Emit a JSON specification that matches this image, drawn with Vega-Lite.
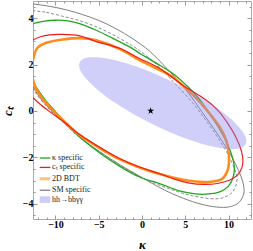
{
"$schema":"https://vega.github.io/schema/vega-lite/v6.json",
"width":218,"height":218,
"autosize":{"type":"none"},
"padding":{"left":33,"top":1,"right":2,"bottom":32},
"config":{"view":{"stroke":"#aaaaaa","strokeWidth":1},"font":"Liberation Serif",
 "axis":{"grid":false,"domain":false,"tickColor":"#999999","labelFont":"Liberation Serif","labelFontWeight":"bold","labelFontSize":10,"labelColor":"#000000","titleFont":"Liberation Serif","titleFontStyle":"italic","titleFontWeight":"bold","titleFontSize":13,"titleColor":"#000000"}},
"datasets":{
"sm":[{"i":1,"k":-12.68,"c":4.62},{"i":2,"k":-10.68,"c":4.51},{"i":3,"k":-8.75,"c":4.36},{"i":4,"k":-6.84,"c":4.15},{"i":5,"k":-4.91,"c":3.89},{"i":6,"k":-2.98,"c":3.54},{"i":7,"k":-1.06,"c":3.11},{"i":8,"k":0.87,"c":2.58},{"i":9,"k":2.79,"c":1.86},{"i":10,"k":5.10,"c":0.90},{"i":11,"k":7.02,"c":-0.09},{"i":12,"k":8.57,"c":-0.91},{"i":13,"k":9.64,"c":-1.52},{"i":14,"k":10.45,"c":-2.03},{"i":15,"k":11.14,"c":-2.55},{"i":16,"k":11.66,"c":-3.07},{"i":17,"k":11.78,"c":-3.54},{"i":18,"k":11.26,"c":-3.93},{"i":19,"k":10.45,"c":-4.10},{"i":20,"k":9.41,"c":-4.16},{"i":21,"k":7.79,"c":-4.10},{"i":22,"k":5.83,"c":-3.91},{"i":23,"k":3.56,"c":-3.58},{"i":24,"k":1.64,"c":-3.22},{"i":25,"k":-0.29,"c":-2.81},{"i":26,"k":-2.60,"c":-2.31},{"i":27,"k":-4.91,"c":-1.75},{"i":28,"k":-7.22,"c":-1.13},{"i":29,"k":-9.15,"c":-0.46},{"i":30,"k":-10.68,"c":0.10},{"i":31,"k":-11.84,"c":0.59},{"i":32,"k":-12.68,"c":1.07},{"i":33,"k":-13.68,"c":1.37},{"i":34,"k":-14.49,"c":1.84},{"i":35,"k":-15.01,"c":2.40},{"i":36,"k":-15.24,"c":3.14},{"i":37,"k":-15.18,"c":3.82},{"i":38,"k":-14.78,"c":4.34},{"i":39,"k":-14.15,"c":4.60},{"i":40,"k":-13.45,"c":4.66}],
"smd":[{"i":1,"k":-12.68,"c":4.32},{"i":2,"k":-11.06,"c":4.25},{"i":3,"k":-9.15,"c":4.08},{"i":4,"k":-7.22,"c":3.89},{"i":5,"k":-5.29,"c":3.63},{"i":6,"k":-3.37,"c":3.29},{"i":7,"k":-1.44,"c":2.88},{"i":8,"k":-0.29,"c":2.60},{"i":9,"k":1.64,"c":2.02},{"i":10,"k":3.56,"c":1.28},{"i":11,"k":5.48,"c":0.51},{"i":12,"k":7.02,"c":-0.22},{"i":13,"k":8.57,"c":-1.04},{"i":14,"k":9.72,"c":-1.73},{"i":15,"k":10.51,"c":-2.33},{"i":16,"k":10.97,"c":-2.85},{"i":17,"k":10.80,"c":-3.28},{"i":18,"k":10.22,"c":-3.58},{"i":19,"k":9.18,"c":-3.76},{"i":20,"k":7.79,"c":-3.78},{"i":21,"k":5.48,"c":-3.63},{"i":22,"k":3.56,"c":-3.41},{"i":23,"k":1.64,"c":-3.15},{"i":24,"k":-0.29,"c":-2.83},{"i":25,"k":-2.60,"c":-2.33},{"i":26,"k":-4.91,"c":-1.77},{"i":27,"k":-7.22,"c":-1.15},{"i":28,"k":-9.15,"c":-0.48},{"i":29,"k":-10.68,"c":0.06},{"i":30,"k":-11.84,"c":0.55},{"i":31,"k":-12.68,"c":0.98},{"i":32,"k":-13.45,"c":1.37},{"i":33,"k":-14.15,"c":1.89},{"i":34,"k":-14.49,"c":2.53},{"i":35,"k":-14.43,"c":3.18},{"i":36,"k":-14.03,"c":3.74},{"i":37,"k":-13.45,"c":4.13},{"i":38,"k":-12.99,"c":4.28}],
"kap":[{"i":1,"k":-12.68,"c":3.74},{"i":2,"k":-11.26,"c":3.87},{"i":3,"k":-9.99,"c":3.91},{"i":4,"k":-8.75,"c":3.89},{"i":5,"k":-7.22,"c":3.76},{"i":6,"k":-5.29,"c":3.48},{"i":7,"k":-3.41,"c":3.14},{"i":8,"k":-1.44,"c":2.76},{"i":9,"k":-0.29,"c":2.49},{"i":10,"k":1.64,"c":2.06},{"i":11,"k":3.56,"c":1.61},{"i":12,"k":5.48,"c":0.98},{"i":13,"k":6.64,"c":0.51},{"i":14,"k":7.68,"c":-0.05},{"i":15,"k":8.95,"c":-0.78},{"i":16,"k":9.87,"c":-1.43},{"i":17,"k":10.45,"c":-1.99},{"i":18,"k":10.68,"c":-2.46},{"i":19,"k":10.51,"c":-2.89},{"i":20,"k":9.99,"c":-3.24},{"i":21,"k":9.06,"c":-3.48},{"i":22,"k":7.79,"c":-3.58},{"i":23,"k":6.18,"c":-3.58},{"i":24,"k":4.33,"c":-3.45},{"i":25,"k":2.02,"c":-3.13},{"i":26,"k":-0.29,"c":-2.85},{"i":27,"k":-2.60,"c":-2.38},{"i":28,"k":-4.91,"c":-1.80},{"i":29,"k":-7.22,"c":-1.11},{"i":30,"k":-9.15,"c":-0.37},{"i":31,"k":-10.10,"c":0.01},{"i":32,"k":-11.03,"c":0.40},{"i":33,"k":-11.84,"c":0.81},{"i":34,"k":-12.68,"c":1.28},{"i":35,"k":-13.22,"c":1.63},{"i":36,"k":-13.63,"c":2.10},{"i":37,"k":-13.74,"c":2.62},{"i":38,"k":-13.57,"c":3.14},{"i":39,"k":-13.16,"c":3.52}],
"bdt":[{"i":1,"k":-12.73,"c":1.93},{"i":2,"k":-12.47,"c":2.40},{"i":3,"k":-12.07,"c":2.73},{"i":4,"k":-11.06,"c":2.94},{"i":5,"k":-9.15,"c":3.08},{"i":6,"k":-7.22,"c":3.14},{"i":7,"k":-5.29,"c":3.05},{"i":8,"k":-2.60,"c":2.68},{"i":9,"k":-0.29,"c":2.19},{"i":10,"k":1.64,"c":1.84},{"i":11,"k":3.56,"c":1.46},{"i":12,"k":5.48,"c":0.83},{"i":13,"k":7.10,"c":0.21},{"i":14,"k":8.95,"c":-0.68},{"i":15,"k":9.72,"c":-1.26},{"i":16,"k":10.02,"c":-1.82},{"i":17,"k":10.05,"c":-2.20},{"i":18,"k":9.91,"c":-2.55},{"i":19,"k":9.33,"c":-2.91},{"i":20,"k":8.26,"c":-3.04},{"i":21,"k":6.99,"c":-3.07},{"i":22,"k":5.25,"c":-3.00},{"i":23,"k":3.56,"c":-2.87},{"i":24,"k":1.64,"c":-2.68},{"i":25,"k":-0.29,"c":-2.44},{"i":26,"k":-2.60,"c":-2.08},{"i":27,"k":-4.91,"c":-1.60},{"i":28,"k":-7.22,"c":-1.04},{"i":29,"k":-8.75,"c":-0.53},{"i":30,"k":-9.87,"c":-0.14},{"i":31,"k":-10.68,"c":0.18},{"i":32,"k":-11.61,"c":0.59},{"i":33,"k":-12.22,"c":0.94},{"i":34,"k":-12.59,"c":1.33},{"i":35,"k":-12.73,"c":1.67}],
"ct":[{"i":1,"k":-12.68,"c":3.05},{"i":2,"k":-11.72,"c":3.20},{"i":3,"k":-10.68,"c":3.28},{"i":4,"k":-9.53,"c":3.30},{"i":5,"k":-7.22,"c":3.24},{"i":6,"k":-5.29,"c":2.99},{"i":7,"k":-2.60,"c":2.70},{"i":8,"k":-0.29,"c":2.26},{"i":9,"k":2.02,"c":1.84},{"i":10,"k":4.71,"c":1.11},{"i":11,"k":6.64,"c":0.66},{"i":12,"k":8.03,"c":0.29},{"i":13,"k":9.15,"c":-0.14},{"i":14,"k":10.48,"c":-0.87},{"i":15,"k":11.26,"c":-1.47},{"i":16,"k":11.64,"c":-1.99},{"i":17,"k":11.57,"c":-2.41},{"i":18,"k":11.06,"c":-2.76},{"i":19,"k":10.10,"c":-2.99},{"i":20,"k":8.72,"c":-3.13},{"i":21,"k":7.22,"c":-3.17},{"i":22,"k":5.48,"c":-3.11},{"i":23,"k":3.75,"c":-2.94},{"i":24,"k":2.02,"c":-2.70},{"i":25,"k":-0.29,"c":-2.42},{"i":26,"k":-2.60,"c":-2.05},{"i":27,"k":-4.91,"c":-1.56},{"i":28,"k":-7.22,"c":-1.02},{"i":29,"k":-8.95,"c":-0.50},{"i":30,"k":-10.68,"c":-0.03},{"i":31,"k":-11.84,"c":0.31},{"i":32,"k":-12.68,"c":0.61},{"i":33,"k":-13.45,"c":0.98},{"i":34,"k":-13.91,"c":1.50},{"i":35,"k":-13.97,"c":2.02},{"i":36,"k":-13.68,"c":2.53},{"i":37,"k":-13.22,"c":2.88}],
"hh":[{"i":1,"k":12.07,"c":-1.30},{"i":2,"k":11.74,"c":-0.96},{"i":3,"k":10.77,"c":-0.52},{"i":4,"k":9.23,"c":-0.03},{"i":5,"k":7.23,"c":0.48},{"i":6,"k":4.90,"c":0.99},{"i":7,"k":2.40,"c":1.45},{"i":8,"k":-0.10,"c":1.84},{"i":9,"k":-2.43,"c":2.12},{"i":10,"k":-4.43,"c":2.28},{"i":11,"k":-5.97,"c":2.31},{"i":12,"k":-6.94,"c":2.21},{"i":13,"k":-7.27,"c":1.97},{"i":14,"k":-6.94,"c":1.63},{"i":15,"k":-5.97,"c":1.20},{"i":16,"k":-4.43,"c":0.70},{"i":17,"k":-2.43,"c":0.19},{"i":18,"k":-0.10,"c":-0.32},{"i":19,"k":2.40,"c":-0.78},{"i":20,"k":4.90,"c":-1.17},{"i":21,"k":7.23,"c":-1.45},{"i":22,"k":9.23,"c":-1.61},{"i":23,"k":10.77,"c":-1.64},{"i":24,"k":11.74,"c":-1.53}],
"star":[{"k":1,"c":0}]
},
"layer":[
{"data":{"name":"sm"},"mark":{"type":"line","interpolate":"cardinal-closed","clip":true,"strokeWidth":1},
 "encoding":{
  "x":{"field":"k","type":"quantitative","scale":{"domain":[-12.6,12.6],"nice":false,"zero":false},"axis":{"orient":"bottom","values":[-10,-5,0,5,10],"tickSize":-4,"labelPadding":4,"title":"κ","titleY":25,"titleBaseline":"middle"}},
  "y":{"field":"c","type":"quantitative","scale":{"domain":[-4.66,4.74],"nice":false,"zero":false},"axis":{"orient":"left","values":[-4,-2,0,2,4],"tickSize":-4,"labelPadding":4,"title":"cₜ","titleX":-26,"titleY":110,"titleBaseline":"middle"}},
  "order":{"field":"i"},
  "color":{"datum":"SM specific","scale":{"domain":["κ specific","cₜ specific","2D BDT","SM specific","hh→bbγγ"],"range":["#1fa51f","#ee1c1c","#ff8c1a","#808080","#cdcdf8"]},
   "legend":{"orient":"none","legendX":8,"legendY":153,"title":null,"padding":0,"symbolType":"stroke","symbolSize":112,"symbolStrokeWidth":1.3,"labelFont":"Liberation Serif","labelFontSize":8,"labelColor":"#222222","labelOffset":3,"rowPadding":1.4,
    "encode":{"symbols":{"update":{
     "shape":{"signal":"datum.value === 'hh→bbγγ' ? 'M-1,-0.62H1V0.62H-1Z' : 'stroke'"},
     "fill":{"signal":"datum.value === 'hh→bbγγ' ? '#cdcdf8' : 'transparent'"},
     "strokeWidth":{"signal":"datum.value === '2D BDT' ? 3 : (datum.value === 'hh→bbγγ' ? 0 : 1.3)"},
     "opacity":{"signal":"datum.value === '2D BDT' ? 0.55 : 1"}}}}}}}},
{"data":{"name":"smd"},"mark":{"type":"line","interpolate":"cardinal-closed","clip":true,"strokeWidth":0.9,"strokeDash":[3,2],"stroke":"#808080"},
 "encoding":{
  "x":{"field":"k","type":"quantitative","axis":{"orient":"top","values":[-10,-5,0,5,10],"tickSize":-4,"labels":false,"title":null}},
  "y":{"field":"c","type":"quantitative","axis":{"orient":"right","values":[-4,-2,0,2,4],"tickSize":-4,"labels":false,"title":null}},
  "order":{"field":"i"}}},
{"data":{"name":"kap"},"mark":{"type":"line","interpolate":"cardinal-closed","clip":true,"strokeWidth":1.3},
 "encoding":{
  "x":{"field":"k","type":"quantitative","axis":{"orient":"bottom","values":[-12,-11,-9,-8,-7,-6,-4,-3,-2,-1,1,2,3,4,6,7,8,9,11,12],"tickSize":-2,"labels":false,"title":null}},
  "y":{"field":"c","type":"quantitative","axis":{"orient":"left","values":[-4.5,-3.5,-3,-2.5,-1.5,-1,-0.5,0.5,1,1.5,2.5,3,3.5,4.5],"tickSize":-2,"labels":false,"title":null}},
  "order":{"field":"i"},
  "color":{"datum":"κ specific"}}},
{"data":{"name":"bdt"},"mark":{"type":"line","interpolate":"cardinal-closed","clip":true,"strokeWidth":2.6},
 "encoding":{
  "x":{"field":"k","type":"quantitative","axis":{"orient":"top","values":[-12,-11,-9,-8,-7,-6,-4,-3,-2,-1,1,2,3,4,6,7,8,9,11,12],"tickSize":-2,"labels":false,"title":null}},
  "y":{"field":"c","type":"quantitative","axis":{"orient":"right","values":[-4.5,-3.5,-3,-2.5,-1.5,-1,-0.5,0.5,1,1.5,2.5,3,3.5,4.5],"tickSize":-2,"labels":false,"title":null}},
  "order":{"field":"i"},
  "color":{"datum":"2D BDT"}}},
{"data":{"name":"ct"},"mark":{"type":"line","interpolate":"cardinal-closed","clip":true,"strokeWidth":1.2},
 "encoding":{
  "x":{"field":"k","type":"quantitative","axis":null},
  "y":{"field":"c","type":"quantitative","axis":null},
  "order":{"field":"i"},
  "color":{"datum":"cₜ specific"}}},
{"data":{"name":"hh"},"mark":{"type":"line","interpolate":"cardinal-closed","clip":true,"fill":"#8c8cf0","fillOpacity":0.42,"stroke":"#8c8cf0","strokeWidth":0},
 "encoding":{
  "x":{"field":"k","type":"quantitative","axis":null},
  "y":{"field":"c","type":"quantitative","axis":null},
  "order":{"field":"i"}}},
{"data":{"name":"star"},"mark":{"type":"point","filled":true,"color":"#000000","opacity":1,"size":54,"shape":"M0,-1L0.2245,-0.309L0.9511,-0.309L0.3633,0.118L0.5878,0.809L0,0.382L-0.5878,0.809L-0.3633,0.118L-0.9511,-0.309L-0.2245,-0.309Z"},
 "encoding":{
  "x":{"field":"k","type":"quantitative","axis":null},
  "y":{"field":"c","type":"quantitative","axis":null}}}
],
"resolve":{"axis":{"x":"independent","y":"independent"}}
}
